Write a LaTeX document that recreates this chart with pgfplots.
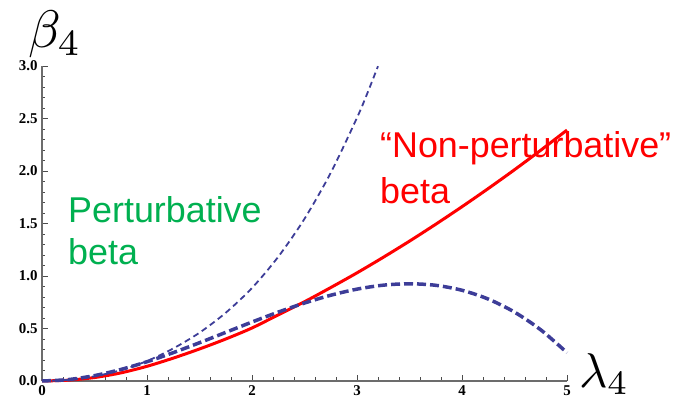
\documentclass[border=0pt]{standalone}
\usepackage{pgfplots}
\pgfplotsset{compat=1.18}
\usepackage{fontspec}
\setmainfont{Liberation Serif}
\newfontfamily\arial{Liberation Sans}
\definecolor{pblue}{HTML}{3D3D98}
\definecolor{pgreen}{HTML}{00B050}
\definecolor{pred}{HTML}{FF0000}
\begin{document}
\begin{tikzpicture}
\path[use as bounding box] (-42bp,-20bp) rectangle (647bp,381bp);
\begin{axis}[
  at={(0,0)}, anchor=origin,
  scale only axis, width=525bp, height=315bp,
  xmin=0, xmax=5, ymin=0, ymax=3,
  axis lines=left,
  axis line style={-, draw=gray!85!black, line width=1.2bp},
  clip=false,
  xtick={0,1,2,3,4,5}, ytick={0,0.5,1,1.5,2,2.5,3},
  minor x tick num=4, minor y tick num=4,
  tick align=inside,
  major tick length=6bp, minor tick length=3.5bp,
  tick style={draw=gray!60!black, line width=0.8bp},
  /pgf/number format/assume math mode=true,
  ticklabel style={font=\bfseries\fontsize{15}{15}\selectfont},
  xticklabel style={yshift=-1.5bp},
  yticklabel style={xshift=-1bp},
  scaled y ticks=false,
  yticklabel style={/pgf/number format/.cd, fixed, fixed zerofill, precision=1},
]
% red "non-perturbative" beta
\addplot[pred, line width=3bp, smooth] coordinates {
(0,0) (0.25,0.008) (0.5,0.033) (0.75,0.077) (1.0,0.14) (1.25,0.218) (1.5,0.305)
(1.75,0.40) (2.0,0.505) (2.25,0.63) (2.5,0.755) (2.75,0.89) (3.0,1.03)
(3.25,1.178) (3.5,1.332) (3.75,1.493) (4.0,1.66) (4.25,1.833) (4.5,2.012)
(4.75,2.198) (5.0,2.39)};
% thick dashed beta
\addplot[pblue, line width=3.5bp, dash pattern=on 9bp off 4bp, smooth] coordinates {
(0,0) (0.25,0.0135) (0.5,0.0513) (0.75,0.1094) (1.0,0.1836) (1.25,0.270)
(1.5,0.3645) (1.75,0.4631) (2.0,0.5616) (2.25,0.6561) (2.5,0.7425)
(2.75,0.8168) (3.0,0.8748) (3.25,0.9126) (3.5,0.9261) (3.75,0.9113)
(4.0,0.864) (4.25,0.7803) (4.5,0.6561) (4.75,0.4874) (5.0,0.27)};
% thin dashed perturbative beta
\addplot[pblue, line width=1.8bp, dash pattern=on 6bp off 4bp, smooth] coordinates {
(0,0) (0.25,0.011) (0.5,0.045) (0.75,0.103) (1.0,0.19) (1.25,0.31)
(1.5,0.46) (1.75,0.65) (2.0,0.886) (2.25,1.183) (2.5,1.545) (2.75,1.983)
(3.0,2.507) (3.1,2.744) (3.2,2.998)};
\node[anchor=base west, inner sep=0, scale=5.3] at (axis cs:-0.143,3.18) {$\beta_4$};
\node[anchor=base west, inner sep=0, scale=4.9] at (axis cs:5.105,-0.06) {$\lambda_4$};
\node[anchor=base west, inner sep=0, text=pgreen, font=\arial\fontsize{36}{36}\selectfont] at (axis cs:0.248,1.505) {Perturbative};
\node[anchor=base west, inner sep=0, text=pgreen, font=\arial\fontsize{36}{36}\selectfont] at (axis cs:0.248,1.105) {beta};
\node[anchor=base west, inner sep=0, text=pred, font=\arial\fontsize{36}{36}\selectfont] at (axis cs:3.219,2.124) {“Non-perturbative”};
\node[anchor=base west, inner sep=0, text=pred, font=\arial\fontsize{36}{36}\selectfont] at (axis cs:3.219,1.695) {beta};
\end{axis}
\end{tikzpicture}
\end{document}
